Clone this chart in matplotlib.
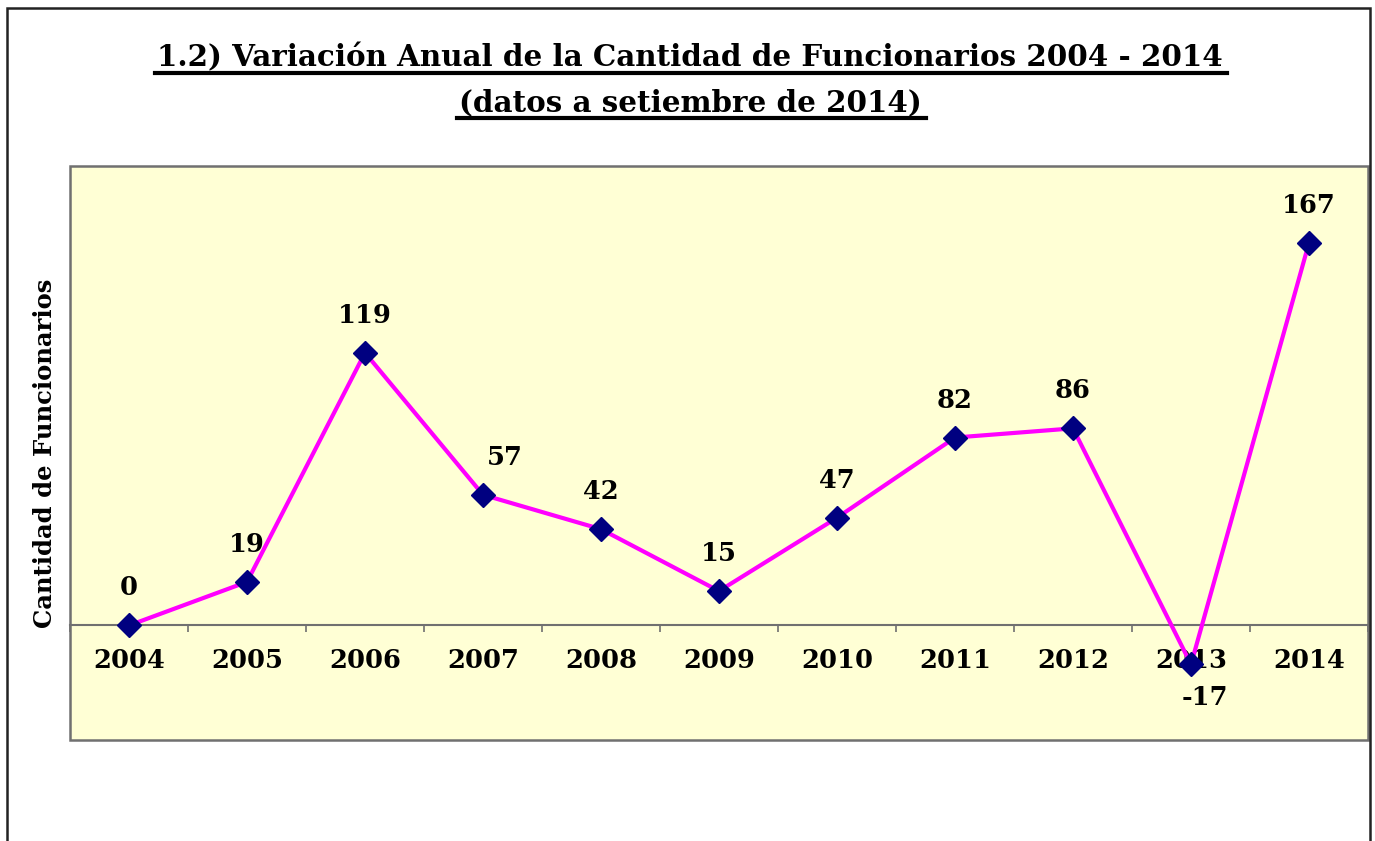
import matplotlib.pyplot as plt
from matplotlib.lines import Line2D
from matplotlib.patches import Rectangle

years = ["2004", "2005", "2006", "2007", "2008", "2009", "2010", "2011", "2012", "2013", "2014"]
variacion = [0, 19, 119, 57, 42, 15, 47, 82, 86, -17, 167]

# small nudges for data labels (points), like in the original sheet
nudge = {3: (16, 0), 9: (10, 0)}

FONT = "DejaVu Serif"

def main():
    fig = plt.figure(figsize=(13.75, 8.41), dpi=100)
    ax = fig.add_axes([70 / 1375, 1 - 740 / 841, (1368 - 70) / 1375, (740 - 166) / 841])
    ax.set_facecolor("#FFFFD5")

    x = list(range(len(years)))
    ax.plot(x, variacion, color="#FF00FF", lw=3, zorder=3, clip_on=False)
    ax.plot(x, variacion, ls="none", marker="D", ms=12, color="#000080", zorder=4, clip_on=False)

    for i, v in enumerate(variacion):
        dx, dy = nudge.get(i, (0, 0))
        off = 27 if v >= 0 else -24
        ax.annotate(str(v), (i, v), xytext=(dx, off + dy), textcoords="offset points",
                    ha="center", va="center", fontsize=18.5, fontweight="bold",
                    family=FONT, zorder=5)

    ax.set_xlim(-0.5, len(years) - 0.5)
    ax.set_ylim(-50, 200.5)
    ax.set_yticks([])

    for s in ["top", "left", "right"]:
        ax.spines[s].set_visible(False)
    ax.spines["bottom"].set_position(("data", 0))
    ax.spines["bottom"].set_color("#707070")
    ax.spines["bottom"].set_linewidth(1.5)
    ax.set_xticks([i + 0.5 for i in range(-1, len(years))])
    ax.set_xticklabels([])
    ax.tick_params(axis="x", which="major", direction="out", length=5, width=1.2, color="#707070")
    ax.set_xticks(x, minor=True)
    ax.set_xticklabels(years, minor=True, fontsize=18.5, fontweight="bold", family=FONT)
    ax.tick_params(axis="x", which="minor", length=0, pad=16)

    ax.add_patch(Rectangle((0, 0), 1, 1, transform=ax.transAxes, fill=False,
                           edgecolor="#707070", lw=1.8, clip_on=False, zorder=6))

    # outer chart border (bottom edge is cut off in the original)
    fig.add_artist(Rectangle((7 / 1375, -0.1), (1370 - 7) / 1375, 1.1 - 8 / 841,
                             transform=fig.transFigure, fill=False,
                             edgecolor="#222222", lw=1.8))

    t1 = fig.text(0.502, 1 - 66 / 841, "1.2) Variación Anual de la Cantidad de Funcionarios 2004 - 2014",
                  ha="center", va="baseline", fontsize=21.2, fontweight="bold", family=FONT)
    t2 = fig.text(0.502, 1 - 111 / 841, "(datos a setiembre de 2014)",
                  ha="center", va="baseline", fontsize=21.2, fontweight="bold", family=FONT)

    fig.text(45 / 1375, 1 - 453 / 841, "Cantidad de Funcionarios", rotation=90,
             ha="center", va="center", fontsize=17.5, fontweight="bold", family=FONT)

    # underline the title
    fig.canvas.draw()
    r = fig.canvas.get_renderer()
    inv = fig.transFigure.inverted()
    for t, yb in [(t1, 66), (t2, 111)]:
        bb = t.get_window_extent(r)
        (x0, y0), (x1, _) = inv.transform([(bb.x0 - 2, 841 - yb - 7), (bb.x1 + 4, 0)])
        fig.add_artist(Line2D([x0, x1], [y0, y0], transform=fig.transFigure,
                              color="black", lw=3))

    fig.savefig("out.png", dpi=100)

if __name__ == "__main__":
    main()
